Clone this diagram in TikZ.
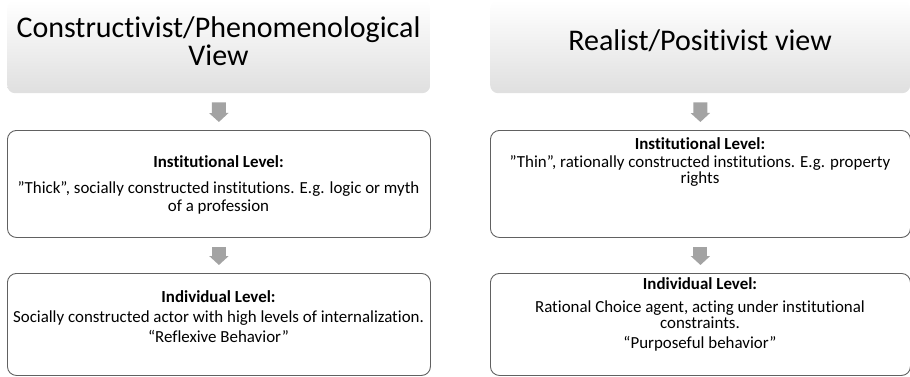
\documentclass[tikz,border=0pt]{standalone}
\usepackage{fontspec}
\setmainfont[Ligatures=NoCommon]{Carlito}
\usetikzlibrary{arrows.meta}
\begin{document}
\begin{tikzpicture}[x=1pt,y=1pt,
  hdr/.style={rectangle, rounded corners=8pt, top color=white, bottom color=gray!25,
    draw=none, minimum height=93pt, anchor=north west, inner sep=0pt},
  lvlbox/.style={rectangle, rounded corners=9pt, draw=black!62, line width=0.9pt,
    fill=white, anchor=north west, inner sep=0pt},
  blockarrow/.style={draw=black!36, line width=14pt, -{Triangle[width=19pt,length=9pt]},
    shorten <=9pt, shorten >=8pt},
  hdrtext/.style={font=\fontsize{30}{36}\selectfont, anchor=base, inner sep=0pt},
  bodytext/.style={font=\fontsize{16.9}{18}\selectfont, anchor=base, inner sep=0pt},
  boldtext/.style={font=\fontsize{16.9}{18}\selectfont\bfseries, anchor=base, inner sep=0pt}]
\useasboundingbox (0,0) rectangle (910,-376);

% left column
\node[hdr, minimum width=423pt] (lh) at (7,0) {};
\node[lvlbox, minimum width=423pt, minimum height=107pt] (li) at (7,-130) {};
\node[lvlbox, minimum width=423pt, minimum height=102pt] (lv) at (7,-273) {};
\draw[blockarrow] (lh.south) -- (li.north);
\draw[blockarrow] (li.south) -- (lv.north);

\node[hdrtext] (lht1) at (218.5,-37) {Constructivist/Phenomenological};
\node[hdrtext] (lht2) at (218.5,-65) {View};

\node[boldtext] (lit1) at (218.5,-167) {Institutional Level:};
\node[bodytext] (lit2) at (218.5,-193) {”Thick”, socially constructed institutions. E.g. logic or myth};
\node[bodytext] (lit3) at (218.5,-211) {of a profession};

\node[boldtext] (lvt1) at (218.5,-302) {Individual Level:};
\node[bodytext] (lvt2) at (218.5,-322) {Socially constructed actor with high levels of internalization.};
\node[bodytext] (lvt3) at (218.5,-342) {“Reflexive Behavior”};

% right column
\node[hdr, minimum width=420pt] (rh) at (490,0) {};
\node[lvlbox, minimum width=420pt, minimum height=107pt] (ri) at (490,-130) {};
\node[lvlbox, minimum width=420pt, minimum height=102pt] (rv) at (490,-273) {};
\draw[blockarrow] (rh.south) -- (ri.north);
\draw[blockarrow] (ri.south) -- (rv.north);

\node[hdrtext] (rht1) at (700,-50) {Realist/Positivist view};

\node[boldtext] (rit1) at (700,-149) {Institutional Level:};
\node[bodytext] (rit2) at (700,-167) {”Thin”, rationally constructed institutions. E.g. property};
\node[bodytext] (rit3) at (700,-183.5) {rights};

\node[boldtext] (rvt1) at (700,-289) {Individual Level:};
\node[bodytext] (rvt2) at (700,-312) {Rational Choice agent, acting under institutional};
\node[bodytext] (rvt3) at (700,-328) {constraints.};
\node[bodytext] (rvt4) at (700,-348) {“Purposeful behavior”};
\end{tikzpicture}
\end{document}
